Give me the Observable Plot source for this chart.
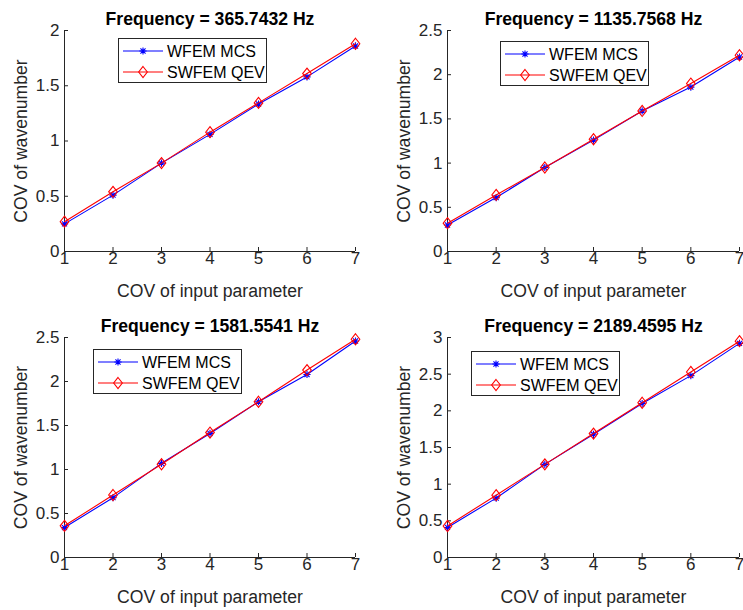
<!DOCTYPE html>
<html>
<head>
<meta charset="utf-8">
<script src="https://cdn.jsdelivr.net/npm/d3@7"></script>
<script src="https://cdn.jsdelivr.net/npm/@observablehq/plot@0.6"></script>
<style>
  body { margin: 0; background: #fff; }
  #fig { position: relative; width: 743px; height: 610px; background: #fff; font-family: "Liberation Sans", Arial, sans-serif; }
  .panel { position: absolute; }
  .panel svg { overflow: visible; }
  .legend { position: absolute; width: 147px; height: 43px; border: 1px solid #262626; background: #fff; }
  .legend svg { position: absolute; left: 0; top: 0; }
</style>
</head>
<body>
<div id="fig"></div>
<script>
// ---- data ----
const covInput = [1, 2, 3, 4, 5, 6, 7];
const frequencies = ["365.7432", "1135.7568", "1581.5541", "2189.4595"];
const seriesNames = ["WFEM MCS", "SWFEM QEV"];

const mcs365  = [0.25, 0.51, 0.80, 1.06, 1.335, 1.58, 1.86];
const qev365  = [0.27, 0.54, 0.80, 1.08, 1.345, 1.61, 1.88];
const mcs1135 = [0.30, 0.61, 0.95, 1.26, 1.59, 1.86, 2.20];
const qev1135 = [0.32, 0.64, 0.95, 1.27, 1.59, 1.90, 2.22];
const mcs1581 = [0.34, 0.68, 1.07, 1.41, 1.77, 2.08, 2.46];
const qev1581 = [0.36, 0.71, 1.06, 1.42, 1.77, 2.13, 2.48];
const mcs2189 = [0.41, 0.81, 1.27, 1.68, 2.10, 2.48, 2.92];
const qev2189 = [0.43, 0.85, 1.27, 1.69, 2.11, 2.53, 2.95];

const yMax = [2, 2.5, 2.5, 3];
const yTicks1 = [0, 0.5, 1, 1.5, 2];
const yTicks2 = [0, 0.5, 1, 1.5, 2, 2.5];
const yTicks3 = [0, 0.5, 1, 1.5, 2, 2.5];
const yTicks4 = [0, 0.5, 1, 1.5, 2, 2.5, 3];

const mcsAll = [mcs365, mcs1135, mcs1581, mcs2189];
const qevAll = [qev365, qev1135, qev1581, qev2189];
const yTicksAll = [yTicks1, yTicks2, yTicks3, yTicks4];

// ---- layout ----
const layout = [
  {left: 0,   top: 0,   w: 372, h: 305, ml: 64, mr: 17, mt: 30, mb: 54, lgLeft: 118, lgTop: 38},
  {left: 372, top: 0,   w: 371, h: 305, ml: 75, mr: 4,  mt: 30, mb: 54, lgLeft: 128, lgTop: 41},
  {left: 0,   top: 305, w: 372, h: 305, ml: 64, mr: 17, mt: 32, mb: 53, lgLeft: 93,  lgTop: 44},
  {left: 372, top: 305, w: 371, h: 305, ml: 75, mr: 4,  mt: 32, mb: 53, lgLeft: 99,  lgTop: 46}
];

const BLUE = "#0000ff", RED = "#ff0000", AX = "#262626";

// MATLAB-like markers
const asteriskSym = {
  draw(ctx, size) {
    const r = Math.sqrt(size / Math.PI), d = r * Math.SQRT1_2;
    ctx.moveTo(-r, 0); ctx.lineTo(r, 0);
    ctx.moveTo(0, -r); ctx.lineTo(0, r);
    ctx.moveTo(-d, -d); ctx.lineTo(d, d);
    ctx.moveTo(-d, d); ctx.lineTo(d, -d);
  }
};
const diamondSym = {
  draw(ctx, size) {
    const r = Math.sqrt(size / Math.PI);
    ctx.moveTo(0, -r * 1.15); ctx.lineTo(r * 0.9, 0);
    ctx.lineTo(0, r * 1.15); ctx.lineTo(-r * 0.9, 0); ctx.closePath();
  }
};

const fig = document.getElementById("fig");

layout.forEach((L, i) => {
  const mcs = covInput.map((x, j) => ({x, y: mcsAll[i][j]}));
  const qev = covInput.map((x, j) => ({x, y: qevAll[i][j]}));
  const chart = Plot.plot({
    width: L.w, height: L.h,
    marginLeft: L.ml, marginRight: L.mr, marginTop: L.mt, marginBottom: L.mb,
    style: {fontFamily: '"Liberation Sans", Arial, sans-serif', fontSize: "17px", color: AX, background: "transparent", overflow: "visible"},
    x: {domain: [1, 7]},
    y: {domain: [0, yMax[i]]},
    marks: [
      Plot.ruleY([0], {stroke: AX, strokeWidth: 1}),
      Plot.ruleX([1], {stroke: AX, strokeWidth: 1}),
      Plot.axisX({ticks: covInput, tickFormat: d => String(d), tickSize: -4, tickPadding: 4, label: null, fontSize: 17}),
      Plot.axisY({ticks: yTicksAll[i], tickFormat: d => String(d), tickSize: -4, tickPadding: 9, label: null, fontSize: 17}),
      Plot.line(mcs, {x: "x", y: "y", stroke: BLUE, strokeWidth: 1.1}),
      Plot.dot(mcs, {x: "x", y: "y", symbol: asteriskSym, r: 3.6, stroke: BLUE, fill: "none", strokeWidth: 1.1}),
      Plot.line(qev, {x: "x", y: "y", stroke: RED, strokeWidth: 1.1}),
      Plot.dot(qev, {x: "x", y: "y", symbol: diamondSym, r: 4.8, stroke: RED, fill: "none", strokeWidth: 1.1}),
      Plot.text([`Frequency = ${frequencies[i]} Hz`], {frameAnchor: "top", textAnchor: "middle", lineAnchor: "middle", dy: -11, fontWeight: "bold", fontSize: 17.6, fill: "#000"}),
      Plot.text(["COV of input parameter"], {frameAnchor: "bottom", textAnchor: "middle", lineAnchor: "middle", dy: 40, fontSize: 17.6, fill: AX}),
      Plot.text(["COV of wavenumber"], {frameAnchor: "left", textAnchor: "middle", lineAnchor: "middle", dx: -43, rotate: -90, fontSize: 17.6, fill: AX})
    ]
  });
  const wrap = document.createElement("div");
  wrap.className = "panel";
  wrap.style.left = L.left + "px";
  wrap.style.top = L.top + "px";
  wrap.appendChild(chart);
  fig.appendChild(wrap);

  // legend
  const lg = document.createElement("div");
  lg.className = "legend";
  lg.style.left = (L.left + L.lgLeft) + "px";
  lg.style.top = (L.top + L.lgTop) + "px";
  const svg = d3.create("svg").attr("width", 147).attr("height", 43)
    .style("font-family", '"Liberation Sans", Arial, sans-serif').style("font-size", "16px");
  const rows = [
    {name: seriesNames[0], color: BLUE, sym: asteriskSym, r: 3.6},
    {name: seriesNames[1], color: RED, sym: diamondSym, r: 4.8}
  ];
  rows.forEach((row, k) => {
    const cy = 12 + k * 21;
    svg.append("line").attr("x1", 4).attr("x2", 44).attr("y1", cy).attr("y2", cy)
      .attr("stroke", row.color).attr("stroke-width", 1.1);
    svg.append("path").attr("d", d3.symbol(row.sym, Math.PI * row.r * row.r)())
      .attr("transform", `translate(24,${cy})`).attr("fill", "none")
      .attr("stroke", row.color).attr("stroke-width", 1.1);
    svg.append("text").attr("x", 48).attr("y", cy).attr("dy", "0.35em")
      .attr("fill", "#000").text(row.name);
  });
  lg.appendChild(svg.node());
  fig.appendChild(lg);
});
</script>
</body>
</html>
